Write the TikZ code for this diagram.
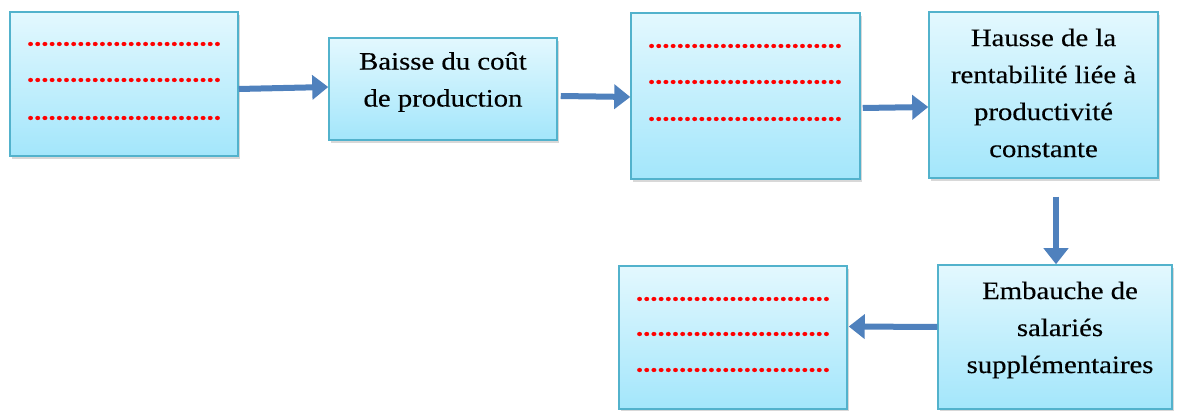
\documentclass[tikz,border=0pt]{standalone}
\usepackage{fontspec}
\setmainfont[FakeStretch=1.15,FakeBold=0.3]{Liberation Serif}
\usetikzlibrary{arrows.meta,calc,shadows}
\definecolor{boxborder}{HTML}{52B2CC}
\definecolor{boxtop}{HTML}{E3F8FE}
\definecolor{boxbot}{HTML}{A3E6FB}
\definecolor{arrblue}{HTML}{4F81BD}
\begin{document}
\begin{tikzpicture}[x=1pt,y=-1pt,
  box/.style={draw=boxborder,line width=1.5pt,top color=boxtop,bottom color=boxbot,
    inner sep=0pt,rectangle,
    drop shadow={shadow xshift=2pt,shadow yshift=-3pt,opacity=0.25,fill=black!60}},
  lbl/.style={inner sep=0pt,align=center,font=\fontsize{25}{37}\selectfont,text=black},
  dots/.style={inner sep=0pt,text=red,font=\fontsize{25}{30}\selectfont\bfseries},
  arr/.style={draw=arrblue,line width=6pt,-{Triangle[length=16pt,width=24pt]}}]
\useasboundingbox (0,0) rectangle (1181,411);
\fill[white] (0,0) rectangle (1181,411);
% boxes
\node[box,minimum width=228pt,minimum height=144pt] (b1) at (124,84) {};
\node[box,minimum width=228pt,minimum height=102pt] (b2) at (443,89) {};
\node[box,minimum width=229pt,minimum height=166pt] (b3) at (745.5,96) {};
\node[box,minimum width=229pt,minimum height=166pt] (b4) at (1043.5,95) {};
\node[box,minimum width=234pt,minimum height=144pt] (b5) at (1055,337) {};
\node[box,minimum width=228pt,minimum height=143pt] (b6) at (733,337.5) {};
% dotted text lines
\node[dots] (d11) at (124,44) {...........................};
\node[dots] (d12) at (124,80) {...........................};
\node[dots] (d13) at (124,118) {...........................};
\node[dots] (d31) at (745,46) {...........................};
\node[dots] (d32) at (745,82) {...........................};
\node[dots] (d33) at (745,119) {...........................};
\node[dots] (d61) at (733,299) {...........................};
\node[dots] (d62) at (733,334) {...........................};
\node[dots] (d63) at (733,370) {...........................};
% labels
\node[lbl] (t2) at (443,82) {Baisse du coût\\de production};
\node[lbl] (t4) at (1043.5,93) {Hausse de la\\rentabilité liée à\\productivité\\constante};
\node[lbl] (t5) at (1060,330) {Embauche de\\salariés\\supplémentaires};
% arrows
\draw[arr] ($(b1.east)+(0,5)$) -- ($(b2.west)+(0,-2)$);
\draw[arr] ($(b2.east)+(3,7)$) -- ($(b3.west)+(0,1)$);
\draw[arr] ($(b3.east)+(2,12)$) -- ($(b4.west)+(0,12)$);
\draw[arr] ($(b4.south)+(12.5,18)$) -- ($(b5.north)+(1,0)$);
\draw[arr] ($(b5.west)+(0,-10)$) -- ($(b6.east)+(1,-11)$);
\end{tikzpicture}
\end{document}
